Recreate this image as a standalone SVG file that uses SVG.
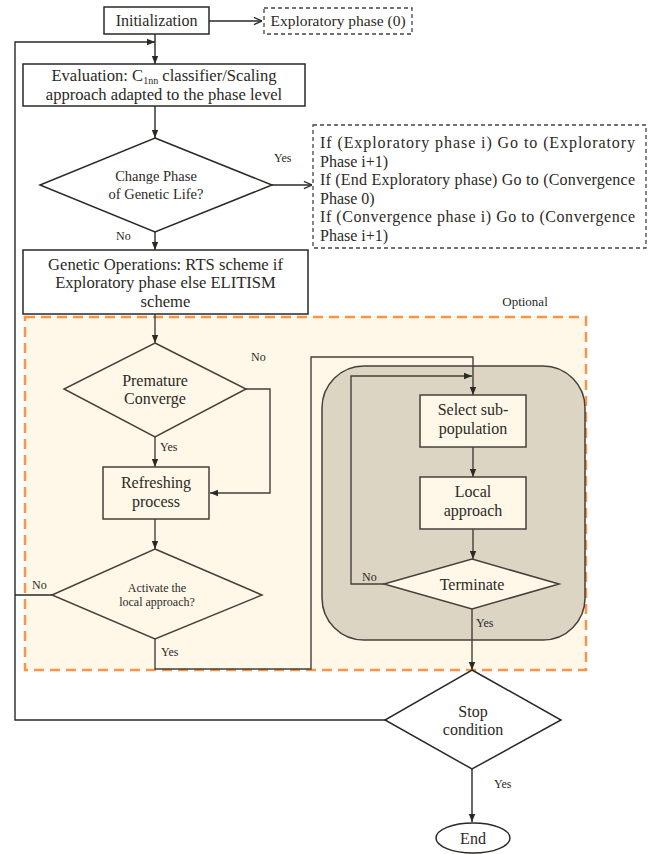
<svg xmlns="http://www.w3.org/2000/svg" width="652" height="854" viewBox="0 0 652 854">
<defs>
<marker id="arr" viewBox="0 0 10 10" refX="10" refY="5" markerWidth="8" markerHeight="8" markerUnits="userSpaceOnUse" orient="auto">
<path d="M0,1 L10,5 L0,9 z" fill="#2b2925"/>
</marker>
<marker id="open" viewBox="0 0 10 10" refX="10" refY="5" markerWidth="9" markerHeight="9" markerUnits="userSpaceOnUse" orient="auto">
<path d="M1,1 L10,5 L1,9" fill="none" stroke="#2b2925" stroke-width="1.4"/>
</marker>
<style>
text{font-family:"Liberation Serif","Times New Roman",serif;fill:#2b2925;}
.t16{font-size:16px;text-anchor:middle;}
.t165{font-size:16.6px;text-anchor:middle;}
.t14{font-size:14.5px;text-anchor:middle;}
.t12{font-size:12px;text-anchor:middle;}
.lbl{font-size:12px;}
.left{font-size:16px;}
.box{fill:#fff;stroke:#2b2925;stroke-width:1.5;}
.obox{fill:#fff8e9;stroke:#45403a;stroke-width:1.5;}
.dash{fill:#fff;stroke:#444;stroke-width:1.3;stroke-dasharray:4 3;}
.ln{fill:none;stroke:#2b2925;stroke-width:1.4;}
.oln{fill:none;stroke:#45403a;stroke-width:1.4;}
</style>
</defs>

<rect id="optional-area" x="25" y="317" width="561" height="353" fill="#fff8e9" stroke="#f79646" stroke-width="2.5" stroke-dasharray="10 6"/>
<text x="525" y="306" style="font-size:13px;text-anchor:middle">Optional</text>
<rect id="local-area" x="322" y="366" width="263" height="274" rx="42" fill="#dcd5c4" stroke="#45403a" stroke-width="1.5"/>

<g id="connectors">
<path class="ln" d="M209 21 H262" marker-end="url(#open)"/>
<path class="ln" d="M386 720 H15 V42 H155" marker-end="url(#arr)"/>
<path class="ln" d="M155 34 V64" marker-end="url(#arr)"/>
<path class="ln" d="M155 106 V138" marker-end="url(#arr)"/>
<path class="ln" d="M272 185 H312" marker-end="url(#open)"/>
<path class="ln" d="M155 232 V250" marker-end="url(#arr)"/>
<path class="oln" d="M155 314 V343" marker-end="url(#arr)"/>
<path class="oln" d="M246 389 H270 V493 H210" marker-end="url(#arr)"/>
<path class="oln" d="M155 437 V467" marker-end="url(#arr)"/>
<path class="oln" d="M155 519 V549" marker-end="url(#arr)"/>
<path class="ln" d="M52 595 H15"/>
<path class="oln" d="M155 639 V669 H311 V357 H473 V395" marker-end="url(#arr)"/>
<path class="oln" d="M384 584 H351 V376 H472" marker-end="url(#arr)"/>
<path class="oln" d="M473 447 V477" marker-end="url(#arr)"/>
<path class="oln" d="M473 529 V559" marker-end="url(#arr)"/>
<path class="oln" d="M472 609 V670" marker-end="url(#arr)"/>
<path class="ln" d="M472 769 V822" marker-end="url(#arr)"/>
<text class="lbl" x="274" y="162">Yes</text>
<text class="lbl" x="116" y="240">No</text>
<text class="lbl" x="251" y="361">No</text>
<text class="lbl" x="160" y="451">Yes</text>
<text class="lbl" x="32" y="589">No</text>
<text class="lbl" x="161" y="656">Yes</text>
<text class="lbl" x="362" y="581">No</text>
<text class="lbl" x="476" y="627">Yes</text>
<text class="lbl" x="494" y="788">Yes</text>
</g>

<g id="init">
<rect class="box" x="104" y="7" width="105" height="27"/>
<text class="t16" x="156.5" y="26">Initialization</text>
</g>
<g id="exploratory0">
<rect class="dash" x="264" y="8" width="148" height="26"/>
<text class="t16" x="338" y="26" style="font-size:15.5px">Exploratory phase (0)</text>
</g>
<g id="evaluation">
<rect class="box" x="23" y="64" width="282" height="42"/>
<text class="t165" x="164" y="81">Evaluation: C<tspan font-size="10" dy="3">1nn</tspan><tspan dy="-3"> classifier/Scaling</tspan></text>
<text class="t165" x="164" y="100">approach adapted to the phase level</text>
</g>
<g id="change-phase">
<polygon class="box" points="155,138 272,185 155,232 40,185"/>
<text class="t14" x="156" y="181">Change Phase</text>
<text class="t14" x="156" y="199">of Genetic Life?</text>
</g>
<g id="phase-rules">
<rect class="dash" x="313" y="125" width="333" height="123"/>
<text class="left" x="320" y="148" textLength="315" lengthAdjust="spacing">If (Exploratory phase i) Go to (Exploratory</text>
<text class="left" x="320" y="167">Phase i+1)</text>
<text class="left" x="320" y="185" textLength="315" lengthAdjust="spacing">If (End Exploratory phase) Go to (Convergence</text>
<text class="left" x="320" y="204">Phase 0)</text>
<text class="left" x="320" y="222" textLength="315" lengthAdjust="spacing">If (Convergence phase i) Go to (Convergence</text>
<text class="left" x="320" y="241">Phase i+1)</text>
</g>
<g id="genetic-ops">
<rect class="box" x="23" y="250" width="285" height="64"/>
<text class="t165" x="165.5" y="270">Genetic Operations: RTS scheme if</text>
<text class="t165" x="165.5" y="288">Exploratory phase else ELITISM</text>
<text class="t165" x="165.5" y="307">scheme</text>
</g>
<g id="premature">
<polygon class="obox" points="155,343 246,389 155,437 64,389"/>
<text class="t16" x="155" y="386">Premature</text>
<text class="t16" x="155" y="404">Converge</text>
</g>
<g id="refreshing">
<rect class="obox" x="103" y="467" width="106" height="52"/>
<text class="t16" x="156" y="488">Refreshing</text>
<text class="t16" x="156" y="507">process</text>
</g>
<g id="activate">
<polygon class="obox" points="155,549 262,595 155,639 52,595"/>
<text class="t12" x="157" y="592">Activate the</text>
<text class="t12" x="157" y="606">local approach?</text>
</g>
<g id="select-sub">
<rect class="obox" x="420" y="395" width="106" height="52"/>
<text class="t16" x="473" y="415">Select sub-</text>
<text class="t16" x="473" y="434">population</text>
</g>
<g id="local-approach">
<rect class="obox" x="420" y="477" width="106" height="52"/>
<text class="t16" x="473" y="497">Local</text>
<text class="t16" x="473" y="516">approach</text>
</g>
<g id="terminate">
<polygon class="obox" points="472,559 559,584 472,609 384,584"/>
<text class="t16" x="472" y="590">Terminate</text>
</g>
<g id="stop">
<polygon class="box" points="472,670 561,720 472,769 385,720"/>
<text class="t16" x="473" y="717">Stop</text>
<text class="t16" x="473" y="735">condition</text>
</g>
<g id="end">
<ellipse class="box" cx="473" cy="838" rx="37" ry="15"/>
<text class="t16" x="473" y="844">End</text>
</g>
</svg>
